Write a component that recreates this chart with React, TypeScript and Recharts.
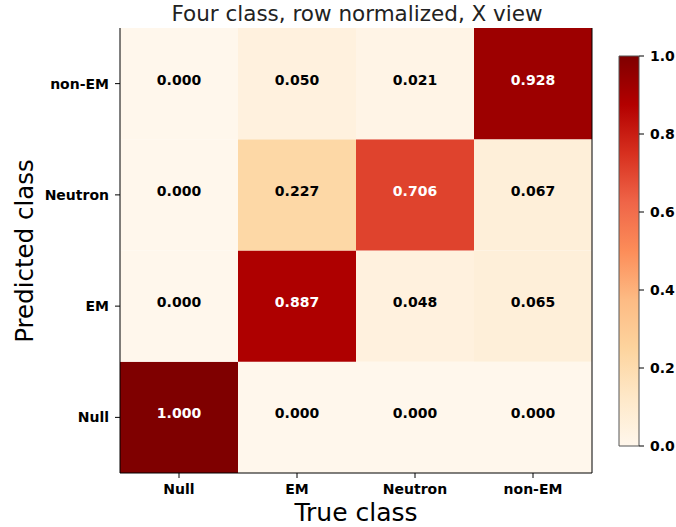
import React from 'react';
import { BarChart, Bar, XAxis, YAxis, Cell, LabelList } from 'recharts';

// categories
const trueClasses = ['Null', 'EM', 'Neutron', 'non-EM'];
// predicted classes, bottom row first
const predictedClasses = ['Null', 'EM', 'Neutron', 'non-EM'];

// row normalized matrix, one array per predicted class, columns = true class
const nullRow = [1.0, 0.0, 0.0, 0.0];
const emRow = [0.0, 0.887, 0.048, 0.065];
const neutronRow = [0.0, 0.227, 0.706, 0.067];
const nonEmRow = [0.0, 0.05, 0.021, 0.928];
const rows = [nullRow, emRow, neutronRow, nonEmRow];

const colorbarTicks = [0, 0.2, 0.4, 0.6, 0.8, 1.0];

// OrRd colormap stops
const ORRD = ['#fff7ec', '#fee8c8', '#fdd49e', '#fdbb84', '#fc8d59', '#ef6548', '#d7301f', '#b30000', '#7f0000'];

const hex = (h: string) => [1, 3, 5].map((i) => parseInt(h.slice(i, i + 2), 16));

const orRd = (v: number) => {
  const p = Math.max(0, Math.min(1, v)) * (ORRD.length - 1);
  const i = Math.min(Math.floor(p), ORRD.length - 2);
  const t = p - i;
  const a = hex(ORRD[i]);
  const b = hex(ORRD[i + 1]);
  const c = a.map((x, k) => Math.round(x + (b[k] - x) * t));
  return `rgb(${c[0]},${c[1]},${c[2]})`;
};

const FONT = '"DejaVu Sans", sans-serif';

// each predicted class is one stacked segment of height 1 per true class
const data = trueClasses.map((tc) => {
  const d: Record<string, any> = { trueClass: tc };
  predictedClasses.forEach((pc) => {
    d[pc] = 1;
  });
  return d;
});

const tickStyle = { fontFamily: FONT, fontSize: 14, fontWeight: 'bold', fill: '#000' };

const makeLabel = (row: number[]) => (props: any) => {
  const { x, y, width, height, index } = props;
  const v = row[index];
  return (
    <text
      x={x + width / 2}
      y={y + height / 2 - 4}
      textAnchor="middle"
      dominantBaseline="central"
      fontFamily={FONT}
      fontSize={14}
      fontWeight="bold"
      fill={v > 0.5 ? '#fff' : '#000'}
    >
      {v.toFixed(3)}
    </text>
  );
};

export default function App() {
  return (
    <div style={{ position: 'absolute', left: 0, top: 0, width: 676, height: 527, background: '#fff' }}>
      <div style={{ position: 'absolute', left: 0, top: 0 }}>
        <BarChart
          width={600}
          height={527}
          data={data}
          barCategoryGap={0}
          barGap={0}
          margin={{ top: 28, right: 7, bottom: 24, left: 0 }}
        >
          <XAxis
            dataKey="trueClass"
            tickSize={5}
            tickMargin={6}
            height={30}
            tick={tickStyle}
            stroke="#000"
            axisLine={{ stroke: '#000' }}
            tickLine={{ stroke: '#000' }}
          />
          <XAxis xAxisId="top" dataKey="trueClass" orientation="top" height={0} tick={false} tickLine={false} axisLine={{ stroke: '#000' }} />
          <YAxis
            type="number"
            domain={[0, 4]}
            ticks={[0.5, 1.5, 2.5, 3.5]}
            tickFormatter={(v: number) => predictedClasses[Math.floor(v)]}
            width={120}
            tickSize={5}
            tickMargin={6}
            tick={tickStyle}
            axisLine={{ stroke: '#000' }}
            tickLine={{ stroke: '#000' }}
          />
          <YAxis yAxisId="right" orientation="right" type="number" domain={[0, 4]} width={1} tick={false} tickLine={false} axisLine={{ stroke: '#000' }} />
          {predictedClasses.map((pc, r) => (
            <Bar key={pc} dataKey={pc} stackId="m" isAnimationActive={false}>
              {trueClasses.map((tc, c) => (
                <Cell key={tc} fill={orRd(rows[r][c])} />
              ))}
              <LabelList dataKey={pc} content={makeLabel(rows[r])} />
            </Bar>
          ))}
        </BarChart>
      </div>

      <div style={{ position: 'absolute', left: 600, top: 0 }}>
        <BarChart
          width={76}
          height={527}
          data={[{ name: 'cb', v: 1 }]}
          barCategoryGap={0}
          margin={{ top: 56, right: 0, bottom: 81, left: 19 }}
          style={{ overflow: 'visible' }}
        >
          <defs>
            <linearGradient id="orrdGrad" x1="0" y1="1" x2="0" y2="0">
              {ORRD.map((c, i) => (
                <stop key={i} offset={`${(i / (ORRD.length - 1)) * 100}%`} stopColor={c} />
              ))}
            </linearGradient>
          </defs>
          <XAxis dataKey="name" hide />
          <YAxis
            orientation="right"
            type="number"
            domain={[0, 1]}
            ticks={colorbarTicks}
            tickFormatter={(v: number) => v.toFixed(1)}
            width={37}
            tickSize={5}
            tickMargin={6}
            tick={{ ...tickStyle, textAnchor: 'start' }}
            axisLine={false}
            tickLine={{ stroke: '#000' }}
          />
          <Bar dataKey="v" fill="url(#orrdGrad)" stroke="#555" strokeWidth={1} isAnimationActive={false} />
        </BarChart>
      </div>

      <svg width={676} height={527} style={{ position: 'absolute', left: 0, top: 0, pointerEvents: 'none', overflow: 'visible' }}>
        <text x={357} y={21} textAnchor="middle" fontFamily={FONT} fontSize={21.5} fill="#222">
          Four class, row normalized, X view
        </text>
        <text x={356} y={521} textAnchor="middle" fontFamily={FONT} fontSize={25} fill="#000">
          True class
        </text>
        <text
          x={33}
          y={251}
          textAnchor="middle"
          transform="rotate(-90 33 251)"
          fontFamily={FONT}
          fontSize={24.5}
          fill="#000"
        >
          Predicted class
        </text>
      </svg>
    </div>
  );
}
